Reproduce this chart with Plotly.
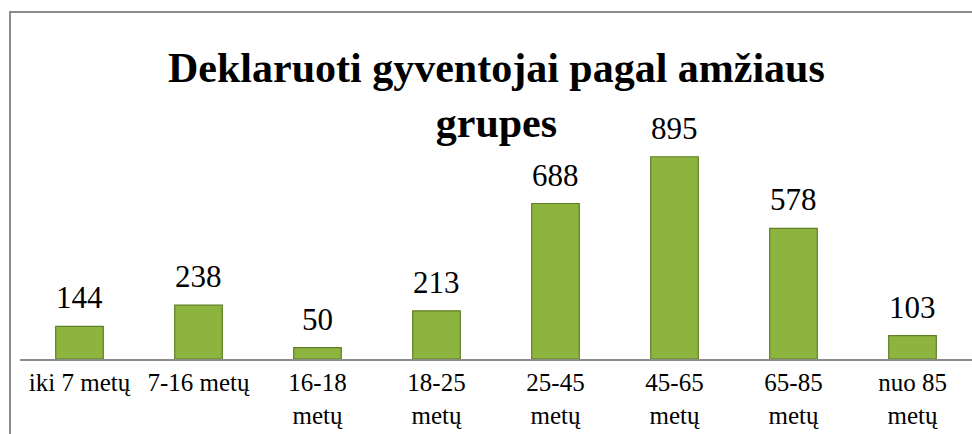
import plotly.graph_objects as go

categories = ["iki 7 metų", "7-16 metų", "16-18<br>metų", "18-25<br>metų",
              "25-45<br>metų", "45-65<br>metų", "65-85<br>metų", "nuo 85<br>metų"]
values = [144, 238, 50, 213, 688, 895, 578, 103]
title_text = "Deklaruoti gyventojai pagal amžiaus<br>grupes"

FONT = "Liberation Serif"
H = 434
PLOT_TOP, PLOT_BOTTOM = 133, 359
PLOT_H = PLOT_BOTTOM - PLOT_TOP


def py(y_px):
    """pixel row -> paper fraction"""
    return (PLOT_BOTTOM - y_px) / PLOT_H


fig = go.Figure()
fig.add_trace(go.Bar(
    x=categories, y=values, width=0.40,
    marker=dict(color="#8DB43F", line=dict(color="#5F7F24", width=1.2)),
    hoverinfo="x+y",
))

for c, v in zip(categories, values):
    fig.add_annotation(x=c, y=v, text=str(v), showarrow=False,
                       yanchor="bottom", yshift=9,
                       font=dict(family=FONT, size=31, color="#000"))

fig.add_annotation(xref="paper", yref="paper", x=0.5, xanchor="center",
                   y=py(43), yanchor="top",
                   text="<b>" + title_text + "</b>", showarrow=False,
                   font=dict(family=FONT, size=42, color="#000"))

fig.update_layout(
    width=972, height=H,
    margin=dict(l=20, r=0, t=PLOT_TOP, b=H - PLOT_BOTTOM, autoexpand=False),
    paper_bgcolor="white", plot_bgcolor="white",
    showlegend=False,
    font=dict(family=FONT),
    xaxis=dict(showline=True, linecolor="#8C8C8C", linewidth=2, automargin=False,
               showgrid=False, ticks="", tickfont=dict(family=FONT, size=25, color="#000"),
               fixedrange=True),
    yaxis=dict(range=[0, 1000], visible=False, showgrid=False, fixedrange=True,
               automargin=False),
    shapes=[dict(type="rect", xref="paper", yref="paper",
                 x0=-10 / 952, x1=1.05, y0=-1, y1=py(12),
                 line=dict(color="#8C8C8C", width=2), fillcolor="rgba(0,0,0,0)",
                 layer="below")],
)

fig.write_html("out.html", config={"displayModeBar": False},
               post_script="document.body.style.margin='0';")
